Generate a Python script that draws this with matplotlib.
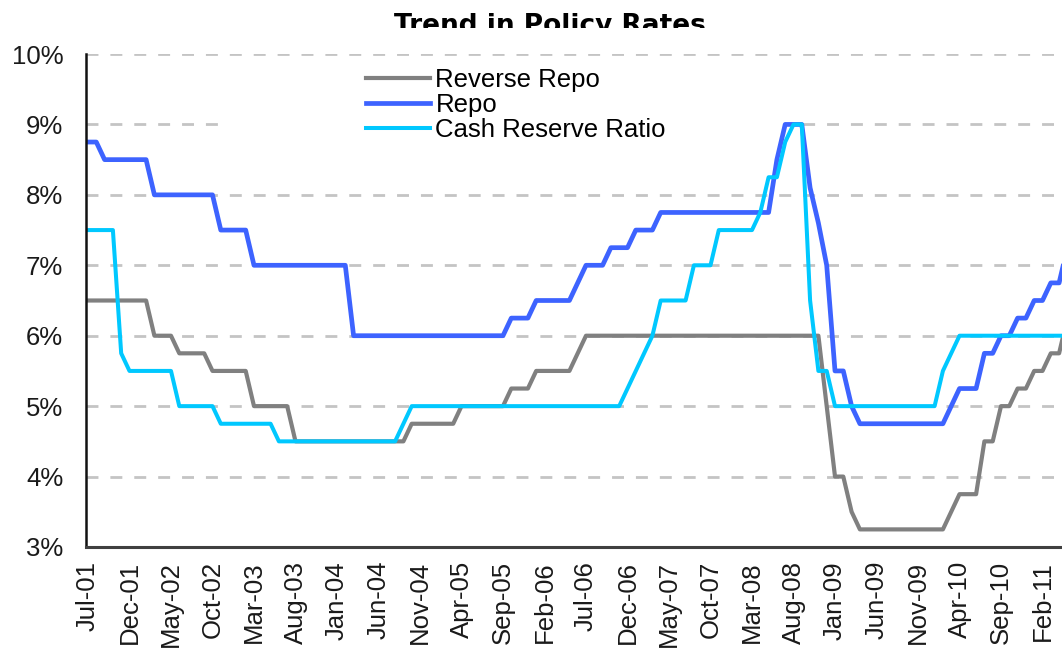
import numpy as np
import pandas as pd
import matplotlib
matplotlib.use('Agg')
import matplotlib.pyplot as plt
from matplotlib.patches import Rectangle
from matplotlib.ticker import FuncFormatter

plt.rcParams['font.family'] = ['Liberation Sans', 'DejaVu Sans']
plt.rcParams['lines.scale_dashes'] = False

##### data: monthly policy rates (%), Jul-01 onwards ####
months = pd.date_range('2001-07-01', periods=119, freq='MS').strftime('%b-%y').tolist()

reverse_repo = [
    6.5, 6.5, 6.5, 6.5, 6.5, 6.5, 6.5, 6.5, 6.0, 6.0, 6.0, 5.75,          # Jul-01 .. Jun-02
    5.75, 5.75, 5.75, 5.5, 5.5, 5.5, 5.5, 5.5, 5.0, 5.0, 5.0, 5.0,        # Jul-02 .. Jun-03
    5.0, 4.5, 4.5, 4.5, 4.5, 4.5, 4.5, 4.5, 4.5, 4.5, 4.5, 4.5,           # Jul-03 .. Jun-04
    4.5, 4.5, 4.5, 4.75, 4.75, 4.75, 4.75, 4.75, 4.75, 5.0, 5.0, 5.0,     # Jul-04 .. Jun-05
    5.0, 5.0, 5.0, 5.25, 5.25, 5.25, 5.5, 5.5, 5.5, 5.5, 5.5, 5.75,       # Jul-05 .. Jun-06
    6.0, 6.0, 6.0, 6.0, 6.0, 6.0, 6.0, 6.0, 6.0, 6.0, 6.0, 6.0,           # Jul-06 .. Jun-07
    6.0, 6.0, 6.0, 6.0, 6.0, 6.0, 6.0, 6.0, 6.0, 6.0, 6.0, 6.0,           # Jul-07 .. Jun-08
    6.0, 6.0, 6.0, 6.0, 6.0, 5.0, 4.0, 4.0, 3.5, 3.25, 3.25, 3.25,        # Jul-08 .. Jun-09
    3.25, 3.25, 3.25, 3.25, 3.25, 3.25, 3.25, 3.25, 3.5, 3.75, 3.75, 3.75,  # Jul-09 .. Jun-10
    4.5, 4.5, 5.0, 5.0, 5.25, 5.25, 5.5, 5.5, 5.75, 5.75, 6.25,          # Jul-10 .. May-11
]

repo = [
    8.75, 8.75, 8.5, 8.5, 8.5, 8.5, 8.5, 8.5, 8.0, 8.0, 8.0, 8.0,
    8.0, 8.0, 8.0, 8.0, 7.5, 7.5, 7.5, 7.5, 7.0, 7.0, 7.0, 7.0,
    7.0, 7.0, 7.0, 7.0, 7.0, 7.0, 7.0, 7.0, 6.0, 6.0, 6.0, 6.0,
    6.0, 6.0, 6.0, 6.0, 6.0, 6.0, 6.0, 6.0, 6.0, 6.0, 6.0, 6.0,
    6.0, 6.0, 6.0, 6.25, 6.25, 6.25, 6.5, 6.5, 6.5, 6.5, 6.5, 6.75,
    7.0, 7.0, 7.0, 7.25, 7.25, 7.25, 7.5, 7.5, 7.5, 7.75, 7.75, 7.75,
    7.75, 7.75, 7.75, 7.75, 7.75, 7.75, 7.75, 7.75, 7.75, 7.75, 7.75, 8.5,
    9.0, 9.0, 9.0, 8.1, 7.6, 7.0, 5.5, 5.5, 5.0, 4.75, 4.75, 4.75,
    4.75, 4.75, 4.75, 4.75, 4.75, 4.75, 4.75, 4.75, 5.0, 5.25, 5.25, 5.25,
    5.75, 5.75, 6.0, 6.0, 6.25, 6.25, 6.5, 6.5, 6.75, 6.75, 7.25,
]

crr = [
    7.5, 7.5, 7.5, 7.5, 5.75, 5.5, 5.5, 5.5, 5.5, 5.5, 5.5, 5.0,
    5.0, 5.0, 5.0, 5.0, 4.75, 4.75, 4.75, 4.75, 4.75, 4.75, 4.75, 4.5,
    4.5, 4.5, 4.5, 4.5, 4.5, 4.5, 4.5, 4.5, 4.5, 4.5, 4.5, 4.5,
    4.5, 4.5, 4.75, 5.0, 5.0, 5.0, 5.0, 5.0, 5.0, 5.0, 5.0, 5.0,
    5.0, 5.0, 5.0, 5.0, 5.0, 5.0, 5.0, 5.0, 5.0, 5.0, 5.0, 5.0,
    5.0, 5.0, 5.0, 5.0, 5.0, 5.25, 5.5, 5.75, 6.0, 6.5, 6.5, 6.5,
    6.5, 7.0, 7.0, 7.0, 7.5, 7.5, 7.5, 7.5, 7.5, 7.75, 8.25, 8.25,
    8.75, 9.0, 9.0, 6.5, 5.5, 5.5, 5.0, 5.0, 5.0, 5.0, 5.0, 5.0,
    5.0, 5.0, 5.0, 5.0, 5.0, 5.0, 5.0, 5.5, 5.75, 6.0, 6.0, 6.0,
    6.0, 6.0, 6.0, 6.0, 6.0, 6.0, 6.0, 6.0, 6.0, 6.0, 6.0,
]

series = [
    ("Reverse Repo", reverse_repo, '#808080', 3.0),
    ("Repo", repo, '#3d63ff', 3.4),
    ("Cash Reserve Ratio", crr, '#00c8ff', 2.9),
]

x = np.arange(len(months))

fig = plt.figure(figsize=(10.62, 6.48), dpi=100)
ax = fig.add_axes([85.5 / 1062, 101 / 648, 1 - 85.5 / 1062, 493 / 648])

for label, vals, col, lw in series:
    ax.plot(x, vals, color=col, linewidth=lw, label=label,
            solid_joinstyle='round', zorder=2)

ax.set_xlim(-0.3, (1062 - 88) / 8.3)
ax.set_ylim(3, 10)
ax.set_yticks(np.arange(3, 11))
ax.yaxis.set_major_formatter(FuncFormatter(lambda v, p: f"{v:.0f}%"))
ax.set_xticks(x[::5])
ax.set_xticklabels(months[::5], rotation=90)
ax.tick_params(axis='both', length=0, labelsize=18.5, colors='#1a1a1a')
ax.tick_params(axis='y', pad=16)
ax.tick_params(axis='x', pad=10)

ax.set_axisbelow(True)
ax.yaxis.grid(True, color='#c4c4c4', linewidth=2.0, linestyle=(0, (8.6, 8.6)))
ax.xaxis.grid(False)
for s in ['top', 'right']:
    ax.spines[s].set_visible(False)
ax.spines['left'].set_linewidth(1.8)
ax.spines['left'].set_color('#111111')
ax.spines['bottom'].set_linewidth(2.2)
ax.spines['bottom'].set_color('#404040')

# white legend area hides part of the 9% gridline
ax.add_patch(Rectangle((0.14, 0.83), 0.575, 0.15, transform=ax.transAxes,
                       facecolor='white', edgecolor='none', zorder=1))

leg = ax.legend(loc='upper left', bbox_to_anchor=(366 / 1062, 1 - 68 / 648),
                bbox_transform=fig.transFigure, frameon=False, fontsize=18.5,
                handlelength=2.5, handletextpad=0.2, labelspacing=0.03,
                borderpad=0, borderaxespad=0)

# title, cut off at its lower part as in the source image
fig.text(0.518, 1 - 33 / 648, "Trend in Policy Rates", ha='center', va='baseline',
         fontsize=19, fontweight='bold', family='DejaVu Sans', zorder=3)
fig.add_artist(Rectangle((0, 1 - 43 / 648), 1, 15 / 648, transform=fig.transFigure,
                         facecolor='white', edgecolor='none', zorder=5))

fig.savefig('out.png', dpi=100)
